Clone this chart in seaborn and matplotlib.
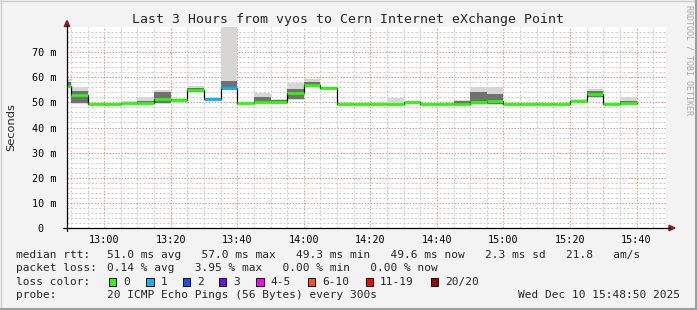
import numpy as np
import pandas as pd
import matplotlib
matplotlib.use("Agg")
import matplotlib.pyplot as plt
import seaborn as sns
from matplotlib.lines import Line2D
from matplotlib.patches import Rectangle, Polygon

# ---------------- data ----------------
slot_start = ["12:45", "12:50", "12:55", "13:00", "13:05", "13:10", "13:15",
              "13:20", "13:25", "13:30", "13:35", "13:40", "13:45", "13:50",
              "13:55", "14:00", "14:05", "14:10", "14:15", "14:20", "14:25",
              "14:30", "14:35", "14:40", "14:45", "14:50", "14:55", "15:00",
              "15:05", "15:10", "15:15", "15:20", "15:25", "15:30", "15:35"]
median_ms = [56.7, 53.1, 49.5, 49.5, 49.6, 49.9, 51.4,
             51.0, 55.0, 51.2, 55.7, 49.6, 50.1, 50.2,
             53.9, 57.0, 55.8, 49.5, 49.5, 49.5, 49.5,
             50.2, 49.5, 49.5, 49.5, 50.0, 50.4, 49.5,
             49.5, 49.5, 49.5, 50.7, 53.5, 49.5, 49.6]
loss_count = [0, 0, 0, 0, 0, 0, 0,
              0, 0, 1, 1, 0, 0, 0,
              0, 0, 0, 0, 0, 0, 0,
              0, 0, 0, 0, 0, 0, 0,
              0, 0, 0, 0, 0, 0, 0]
smoke_low = [56.0, 49.3, 49.3, 49.3, 49.3, 49.3, 49.3,
             50.6, 53.7, 50.8, 55.0, 49.2, 49.6, 49.3,
             51.0, 55.6, 54.8, 49.3, 49.3, 49.3, 49.3,
             49.8, 49.3, 49.3, 49.3, 49.0, 49.0, 49.3,
             49.3, 49.3, 49.3, 50.2, 51.7, 49.3, 49.0]
smoke_high = [59.2, 56.1, 49.8, 49.8, 50.5, 52.3, 55.0,
              51.7, 56.6, 52.2, 85.0, 50.3, 53.6, 51.4,
              57.6, 59.2, 56.3, 49.8, 49.9, 49.9, 51.9,
              50.5, 49.7, 49.7, 51.0, 56.0, 56.0, 49.8,
              49.8, 49.8, 49.8, 51.5, 55.4, 50.3, 52.3]
core_low = [56.3, 49.7, np.nan, np.nan, np.nan, 49.5, 49.8,
            50.8, 54.3, 51.0, 55.3, np.nan, 49.8, 49.8,
            51.5, 56.5, 55.3, np.nan, np.nan, np.nan, np.nan,
            np.nan, np.nan, np.nan, 49.5, 49.5, 49.5, np.nan,
            np.nan, np.nan, np.nan, np.nan, 52.2, np.nan, 49.3]
core_high = [58.0, 54.7, np.nan, np.nan, np.nan, 50.5, 54.0,
             51.3, 55.8, 51.6, 58.5, np.nan, 52.0, 50.8,
             55.2, 58.0, 56.0, np.nan, np.nan, np.nan, np.nan,
             np.nan, np.nan, np.nan, 50.5, 54.0, 53.5, np.nan,
             np.nan, np.nan, np.nan, np.nan, 54.5, np.nan, 50.5]

loss_labels = ["0", "1", "2", "3", "4-5", "6-10", "11-19", "20/20"]
loss_colors = ["#26ff00", "#00b8ff", "#0059ff", "#7e00ff",
               "#ff00ff", "#ff5500", "#ff0000", "#a10000"]
xtick_labels = ["13:00", "13:20", "13:40", "14:00", "14:20", "14:40",
                "15:00", "15:20", "15:40"]
ytick_values = [0, 10, 20, 30, 40, 50, 60, 70]

title = "Last 3 Hours from vyos to Cern Internet eXchange Point"
stat_lines = [
    ("median rtt:", "51.0 ms avg   57.0 ms max   49.3 ms min   49.6 ms now   2.3 ms sd   21.8   am/s"),
    ("packet loss:", "0.14 % avg   3.95 % max   0.00 % min   0.00 % now"),
]
probe_text = "20 ICMP Echo Pings (56 Bytes) every 300s"
stamp_text = "Wed Dec 10 15:48:50 2025"

# ---------------- helpers ----------------
def to_min(s):
    h, m = s.split(":")
    return int(h) * 60 + int(m)

STEP = 5
t0 = np.array([to_min(s) for s in slot_start], dtype=float)
edges = np.append(t0, t0[-1] + STEP)
med = np.asarray(median_ms, dtype=float)
def ext(a):
    a = np.asarray(a, dtype=float)
    return np.append(a, a[-1])
def fill_core(a):
    a = np.asarray(a, dtype=float)
    return np.where(np.isnan(a), med, a)

W, H = 697, 310
def fx(x): return x / W
def fy(y): return 1 - y / H

sns.set_style("white")
plt.rcParams["font.family"] = ["DejaVu Sans Mono"]

fig = plt.figure(figsize=(W / 100, H / 100), dpi=100, facecolor="#f3f3f3")

# figure border shading
fig.add_artist(Line2D([fx(0.5), fx(0.5)], [fy(0), fy(H)], color="#cfcfcf", lw=1.0))
fig.add_artist(Line2D([fx(0), fx(W)], [fy(0.5), fy(0.5)], color="#cfcfcf", lw=1.0))
fig.add_artist(Line2D([fx(W - 1.5), fx(W - 1.5)], [fy(0), fy(H)], color="#9e9e9e", lw=1.5))
fig.add_artist(Line2D([fx(0), fx(W)], [fy(H - 1.5), fy(H - 1.5)], color="#9e9e9e", lw=1.5))

x_left, x_right, y_top, y_bot = 67, 666, 27, 228
ax = fig.add_axes([fx(x_left), fy(y_bot), (x_right - x_left) / W, (y_bot - y_top) / H])
ax.set_facecolor("white")

xmin = to_min("12:48") + 50 / 60
ax.set_xlim(xmin, xmin + 180)
ax.set_ylim(0, 80)

# grid
major_x = [to_min(s) for s in xtick_labels]
minor_x = np.arange(to_min("12:50"), to_min("15:50"), STEP)
ax.set_xticks(major_x)
ax.set_xticks([v for v in minor_x if v not in major_x], minor=True)
ax.set_yticks(ytick_values)
ax.set_yticks([v for v in range(2, 80, 2) if v % 10 != 0], minor=True)
ax.grid(which="minor", color="#cccccc", lw=0.72, linestyle=(0, (2, 2)))
ax.grid(which="major", color="#f29a9a", lw=0.72, linestyle=(0, (1.5, 1.5)))
ax.set_axisbelow(True)

# smoke
ax.fill_between(edges, ext(smoke_low), ext(smoke_high), step="post",
                color="#d6d6d6", lw=0, zorder=2)
ax.fill_between(edges, ext(fill_core(core_low)), ext(fill_core(core_high)), step="post",
                color="#9a9a9a", lw=0, zorder=3)
ax.fill_between(edges, ext(fill_core(core_low)), ext(fill_core(core_high)), step="post",
                color="#404040", alpha=0.45, lw=0, zorder=3,
                where=None)

# median step line (black) and loss-coloured segments
df = pd.DataFrame({"t": edges, "median": ext(median_ms)})
sns.lineplot(data=df, x="t", y="median", drawstyle="steps-post", color="black",
             lw=0.9, ax=ax, estimator=None, zorder=4)
seg_colors = [loss_colors[min(c, 7)] for c in loss_count]
ax.hlines(median_ms, t0, t0 + STEP, colors=seg_colors, lw=2.0, zorder=5)

# ticks & labels
ax.set_xticklabels(xtick_labels)
ax.set_yticklabels([f"{v} m" if v else "0  " for v in ytick_values])
ax.tick_params(axis="both", which="both", length=0, labelsize=7.3, colors="black")
ax.tick_params(axis="x", pad=5)
ax.tick_params(axis="y", pad=7.5)
ax.set_xlabel("")
ax.set_ylabel("")
for s in ax.spines.values():
    s.set_visible(False)

# axes lines with arrows
fig.add_artist(Line2D([fx(63), fx(670)], [fy(228), fy(228)], color="black", lw=0.9))
fig.add_artist(Line2D([fx(67), fx(67)], [fy(231), fy(25)], color="black", lw=0.9))
fig.add_artist(Polygon([[fx(669), fy(225.3)], [fx(669), fy(230.7)], [fx(675), fy(228)]],
                       closed=True, color="#8b1c1c", transform=fig.transFigure))
fig.add_artist(Polygon([[fx(64.3), fy(26.5)], [fx(69.7), fy(26.5)], [fx(67), fy(20.5)]],
                       closed=True, color="#8b1c1c", transform=fig.transFigure))

# texts
fig.text(fx(348), fy(19), title, ha="center", va="center", fontsize=9.5,
         family="DejaVu Sans Mono")
fig.text(fx(10.8), fy(127.5), "Seconds", rotation=90, ha="center", va="center",
         fontsize=8.2, family="DejaVu Sans")
fig.text(fx(688.5), fy(5), "RRDTOOL / TOBI OETIKER", rotation=270, ha="center",
         va="top", fontsize=6.0, color="#a8a8a8", family="DejaVu Sans Mono")

fs = 8
base = [257.5, 271.0, 284.8, 298.5]
for (lab, txt), yb in zip(stat_lines, base[:2]):
    fig.text(fx(16), fy(yb), lab, ha="left", va="baseline", fontsize=fs)
    fig.text(fx(107), fy(yb), txt, ha="left", va="baseline", fontsize=fs)

fig.text(fx(16), fy(base[2]), "loss color:", ha="left", va="baseline", fontsize=fs)
label_x = [123, 160.7, 197.3, 233, 270.7, 322.3, 380, 445]
for lx, lab, col in zip(label_x, loss_labels, loss_colors):
    fig.add_artist(Rectangle((fx(lx - 14.5), fy(285.7)), 7.5 / W, 8.2 / H,
                             facecolor=col, edgecolor="black", lw=0.7,
                             transform=fig.transFigure))
    fig.text(fx(lx), fy(base[2]), lab, ha="left", va="baseline", fontsize=fs)

fig.text(fx(16), fy(base[3]), "probe:", ha="left", va="baseline", fontsize=fs)
fig.text(fx(107), fy(base[3]), probe_text, ha="left", va="baseline", fontsize=fs)
fig.text(fx(680), fy(base[3]), stamp_text, ha="right", va="baseline", fontsize=fs)

fig.savefig("out.png", dpi=100, facecolor=fig.get_facecolor())
